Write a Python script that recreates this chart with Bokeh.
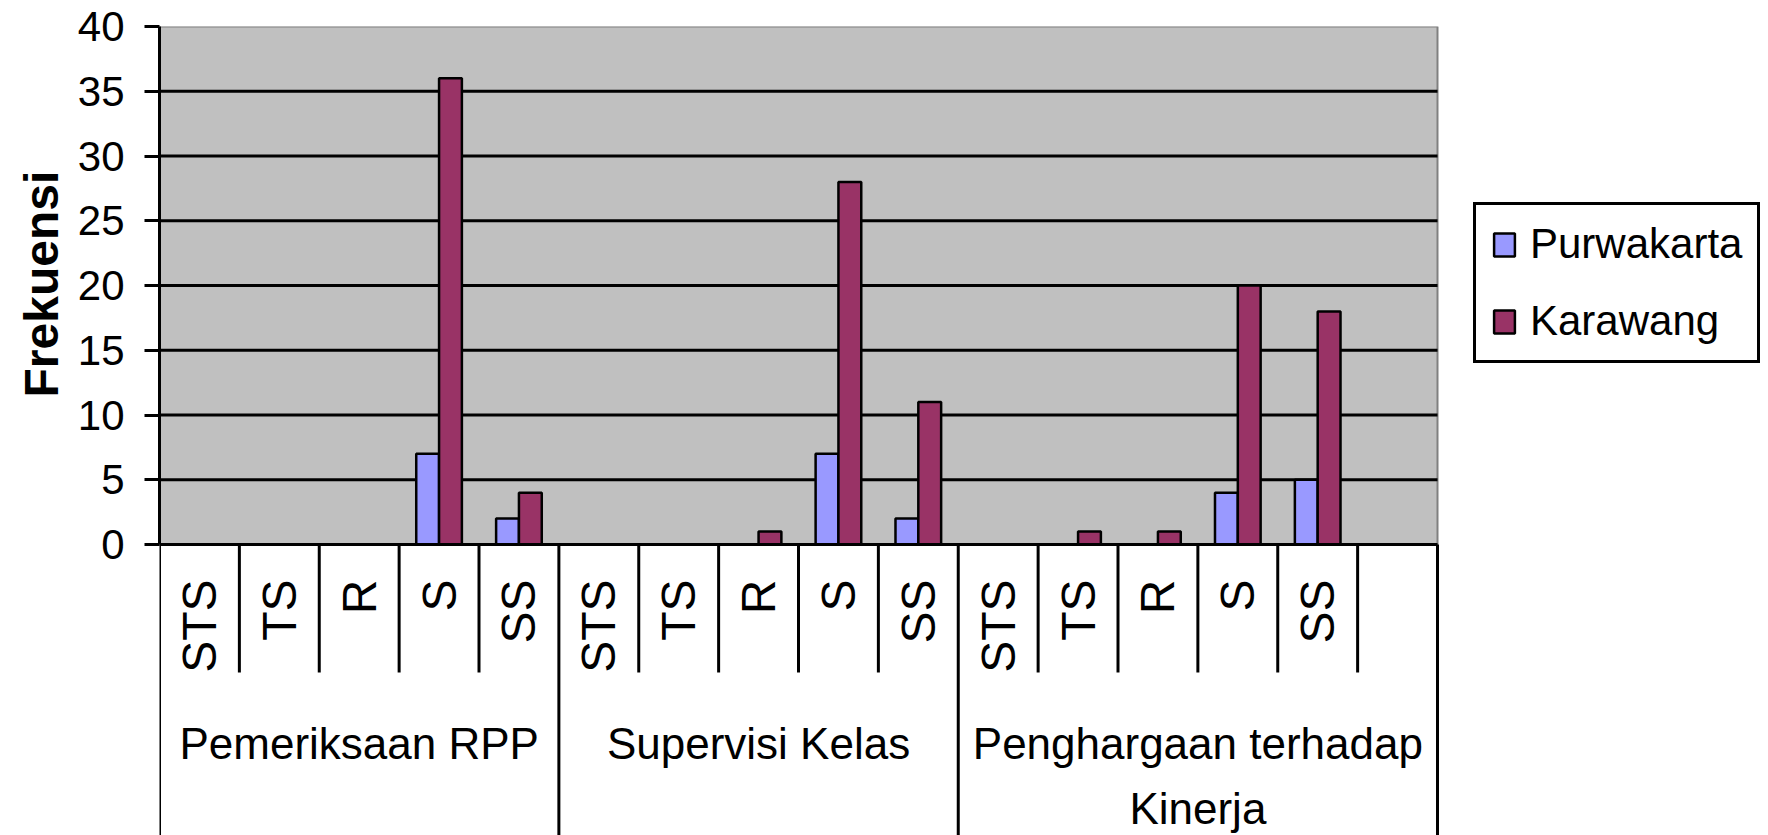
import numpy as np
from bokeh.plotting import figure
from bokeh.models import Range1d, FixedTicker, Legend, LegendItem, ColumnDataSource, Title
from bokeh.core.properties import value
from bokeh.embed import file_html
from bokeh.resources import INLINE

# ---------------- data ----------------
CATEGORIES = ["STS", "TS", "R", "S", "SS",
              "STS", "TS", "R", "S", "SS",
              "STS", "TS", "R", "S", "SS", ""]
GROUP_LABELS = ["Pemeriksaan RPP", "Supervisi Kelas", "Penghargaan terhadap\nKinerja"]
GROUP_SIZES = [5, 5, 6]
SERIES = ["Purwakarta", "Karawang"]
PURWAKARTA = [0, 0, 0, 7, 2, 0, 0, 0, 7, 2, 0, 0, 0, 4, 5]
KARAWANG = [0, 0, 0, 36, 4, 0, 0, 1, 28, 11, 0, 1, 1, 20, 18]
Y_TICKS = [0, 5, 10, 15, 20, 25, 30, 35, 40]
Y_LABEL = "Frekuensi"

# ---------------- layout / style ----------------
FONT = "Liberation Sans"
W, H = 1768, 835
FRAME_TOP = 26
FRAME_LEFT = 159
PX_PER_UNIT = 12.95
SLOT_PX = 79.875
Y_MAX = Y_TICKS[-1]
Y_MIN = Y_MAX - (H - FRAME_TOP) / PX_PER_UNIT
N_SLOTS = len(CATEGORIES)
X_END = (W - FRAME_LEFT) / SLOT_PX
BAR_W = 1 / 3.5
COL_P = "#9999FF"
COL_K = "#993366"
LABEL_Y = -35 / PX_PER_UNIT
DIV_SHORT = -128 / PX_PER_UNIT
GROUP_Y = -174 / PX_PER_UNIT

p = figure(width=W, height=H, output_backend="svg", toolbar_location=None,
           x_range=Range1d(0, X_END), y_range=Range1d(Y_MIN, Y_MAX),
           x_axis_type=None, min_border_left=FRAME_LEFT, min_border_right=0,
           min_border_top=FRAME_TOP, min_border_bottom=0)
p.background_fill_color = "white"
p.border_fill_color = "white"
p.outline_line_color = None
p.xgrid.visible = False
p.ygrid.visible = False

# plot-area background (0..Y_MAX)
bg = p.quad(left=[0], right=[N_SLOTS], bottom=[Y_TICKS[0]], top=[Y_MAX],
            fill_color="#C0C0C0", line_color="#808080", line_width=2)
bg.level = "image"

# horizontal gridlines
gl = Y_TICKS[1:-1]
p.segment(x0=np.zeros(len(gl)), y0=gl, x1=np.full(len(gl), N_SLOTS), y1=gl,
          line_color="black", line_width=3)

# y axis
ax = p.yaxis[0]
ax.ticker = FixedTicker(ticks=Y_TICKS)
ax.bounds = (Y_TICKS[0], Y_MAX)
ax.axis_line_width = 3
ax.axis_line_color = "black"
ax.major_tick_line_width = 3
ax.major_tick_line_color = "black"
ax.major_tick_out = 15
ax.major_tick_in = 0
ax.minor_tick_line_color = None
ax.major_label_standoff = 20
ax.major_label_text_font = FONT
ax.major_label_text_font_size = "42px"
ax.major_label_text_color = "black"

# y-axis title, placed along the 0..Y_MAX span
ytitle = Title(text=Y_LABEL, align="left", vertical_align="top", offset=438,
               text_font=FONT, text_font_size="48px", text_font_style="bold",
               text_color="black", standoff=10)
p.add_layout(ytitle, "left")

# bars
idx = np.arange(len(PURWAKARTA))
src = ColumnDataSource(dict(xp=idx + 0.5 - BAR_W / 2, xk=idx + 0.5 + BAR_W / 2,
                            p=PURWAKARTA, k=KARAWANG))
rp = p.vbar(x="xp", top="p", bottom=0, width=BAR_W, source=src,
            fill_color=COL_P, line_color="black", line_width=2.5)
rk = p.vbar(x="xk", top="k", bottom=0, width=BAR_W, source=src,
            fill_color=COL_K, line_color="black", line_width=2.5)

# category axis line and dividers
p.segment(x0=[0], y0=[0], x1=[N_SLOTS], y1=[0], line_color="black", line_width=3)
bounds = np.concatenate([[0], np.cumsum(GROUP_SIZES)])
div_x = np.arange(N_SLOTS + 1)
div_end = [Y_MIN if k in bounds else DIV_SHORT for k in div_x]
p.segment(x0=div_x, y0=np.zeros(len(div_x)), x1=div_x, y1=div_end,
          line_color="black", line_width=3)

# category labels (rotated)
p.text(x=np.arange(N_SLOTS) + 0.5, y=np.full(N_SLOTS, LABEL_Y), text=CATEGORIES,
       angle=np.pi / 2, text_align="right", text_baseline="middle",
       text_font=value(FONT), text_font_size=value("48px"), text_color="black")

# group labels
gx = (bounds[:-1] + bounds[1:]) / 2
p.text(x=gx, y=np.full(len(gx), GROUP_Y), text=GROUP_LABELS,
       text_align="center", text_baseline="top", text_line_height=1.33,
       text_font=value(FONT), text_font_size=value("44px"), text_color="black")

legend = Legend(items=[LegendItem(label=SERIES[0], renderers=[rp]),
                       LegendItem(label=SERIES[1], renderers=[rk])],
                location=(1314, 472), orientation="vertical",
                border_line_color="black", border_line_width=3, border_line_alpha=1,
                label_text_font=FONT, label_text_font_size="42px",
                label_text_color="black",
                glyph_width=26, glyph_height=29, label_standoff=13,
                padding=15, spacing=29, margin=0,
                background_fill_color="white", background_fill_alpha=1)
p.add_layout(legend, "center")

open("out.html", "w").write(file_html(p, INLINE))
